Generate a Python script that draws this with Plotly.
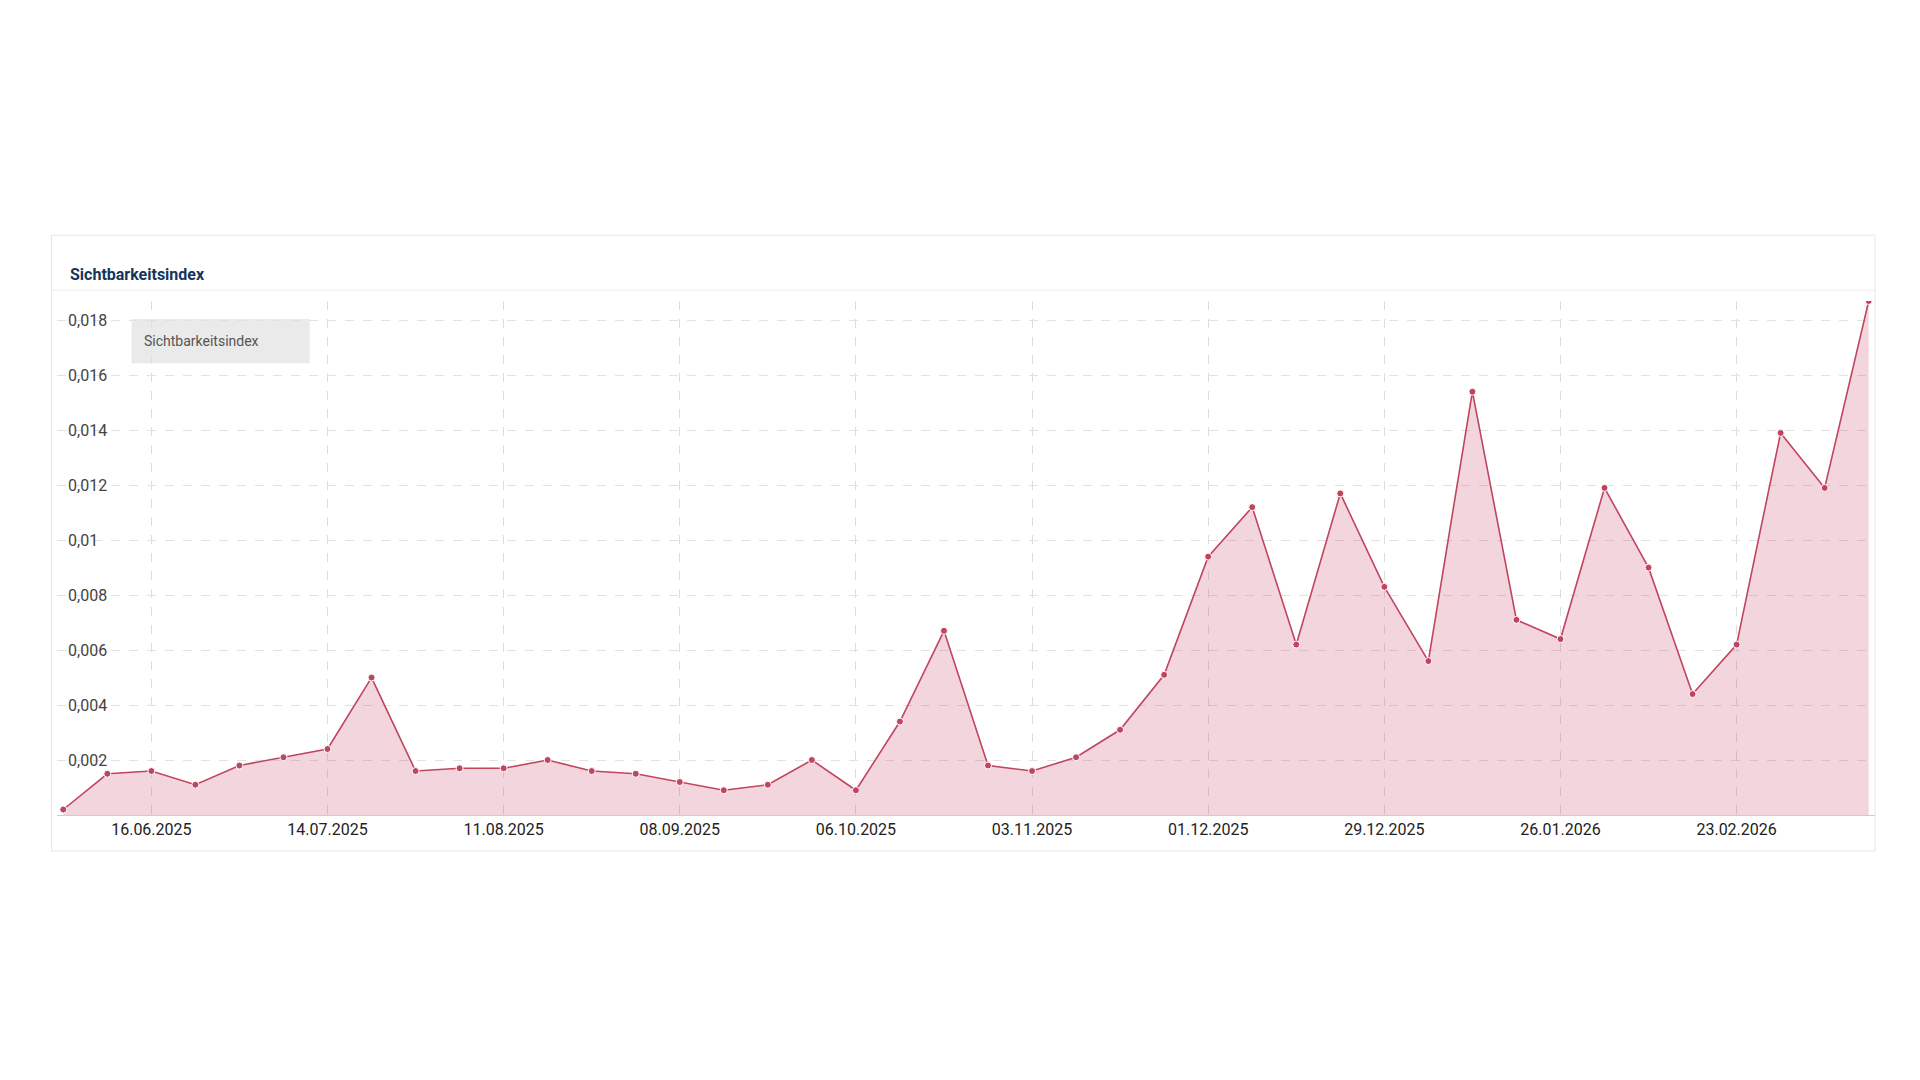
import plotly.graph_objects as go
import pandas as pd

dates = pd.date_range("2025-06-02", periods=42, freq="7D")
values = [0.0002, 0.0015, 0.0016, 0.0011, 0.0018, 0.0021, 0.0024, 0.0050, 0.0016, 0.0017,
          0.0017, 0.0020, 0.0016, 0.0015, 0.0012, 0.0009, 0.0011, 0.0020, 0.0009, 0.0034,
          0.0067, 0.0018, 0.0016, 0.0021, 0.0031, 0.0051, 0.0094, 0.0112, 0.0062, 0.0117,
          0.0083, 0.0056, 0.0154, 0.0071, 0.0064, 0.0119, 0.0090, 0.0044, 0.0062, 0.0139,
          0.0119, 0.0187]
ytick_vals = [0.002, 0.004, 0.006, 0.008, 0.01, 0.012, 0.014, 0.016, 0.018]
ytick_text = ["0,002", "0,004", "0,006", "0,008", "0,01", "0,012", "0,014", "0,016", "0,018"]
xtick_vals = pd.date_range("2025-06-16", periods=10, freq="28D")
xtick_text = [d.strftime("%d.%m.%Y") for d in xtick_vals]

line_col = "#c0455e"

fig = go.Figure()
fig.add_trace(go.Scatter(
    x=dates, y=values, mode="lines+markers", fill="tozeroy",
    fillcolor="rgba(200,70,100,0.22)",
    line=dict(color=line_col, width=1.6),
    marker=dict(color=line_col, size=7, line=dict(color="white", width=1)),
    name="Sichtbarkeitsindex"
))

# card
fig.add_shape(type="rect", xref="paper", yref="paper", x0=-0.003, x1=1.0, y0=-0.07, y1=1.128,
              line=dict(color="#e6e6e6", width=1), fillcolor="rgba(0,0,0,0)", layer="below")
fig.add_shape(type="line", xref="paper", yref="paper", x0=-0.003, x1=1.0, y0=1.021, y1=1.021,
              line=dict(color="#ececec", width=1))
fig.add_annotation(text="<b>Sichtbarkeitsindex</b>", xref="paper", yref="paper", x=0.006, y=1.074,
                   xanchor="left", showarrow=False, font=dict(size=16, color="#14355c"))
# tooltip-like box
fig.add_shape(type="rect", xref="paper", yref="paper", x0=0.041, x1=0.139, y0=0.879, y1=0.965,
              line=dict(width=0), fillcolor="rgba(225,225,225,0.7)")
fig.add_annotation(text="Sichtbarkeitsindex", xref="paper", yref="paper", x=0.047, y=0.942,
                   xanchor="left", showarrow=False, font=dict(size=14, color="#555"))

fig.update_layout(
    width=1920, height=1080, paper_bgcolor="white", plot_bgcolor="white",
    margin=dict(l=49, r=53, t=293, b=273),
    showlegend=False, font=dict(family="Roboto, Arial", size=16, color="#222"),
    xaxis=dict(range=[dates[0] - pd.Timedelta(days=1), dates[-1] + pd.Timedelta(days=1)],
               tickvals=xtick_vals, ticktext=xtick_text, showgrid=True,
               gridcolor="#dddddd", griddash="dash", showline=True, linecolor="#cccccc",
               zeroline=False, ticks=""),
    yaxis=dict(range=[0, 0.0187], tickvals=ytick_vals, ticktext=ytick_text, showgrid=True,
               gridcolor="#e2e2e2", griddash="dash", zeroline=False, ticks="",
               ticklabelposition="inside", ticklabelstandoff=8),
)

fig.write_html("out.html")
